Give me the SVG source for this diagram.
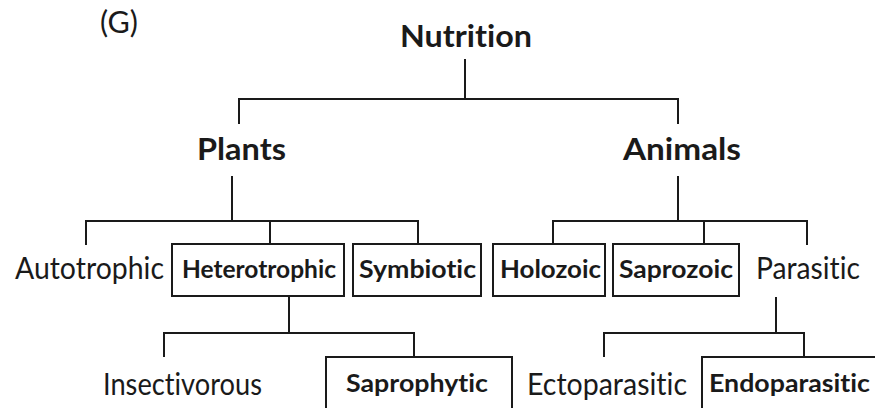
<svg xmlns="http://www.w3.org/2000/svg" width="875" height="408" viewBox="0 0 875 408">
<style>
  text { font-variant-ligatures: none; }
  .reg { font-family: Lato, "Open Sans", "Liberation Sans", sans-serif; font-size: 30px; fill: #1a1a1a; }
  .head { font-family: Lato, "Open Sans", "Liberation Sans", sans-serif; font-size: 31px; font-weight: bold; fill: #1a1a1a; }
  .lbl { font-family: Lato, "Open Sans", "Liberation Sans", sans-serif; font-size: 24px; font-weight: bold; fill: #1a1a1a; }
  .box { fill: #ffffff; stroke: #1a1a1a; stroke-width: 2; }
  .conn { fill: none; stroke: #1a1a1a; stroke-width: 2; }
</style>
<rect x="0" y="0" width="875" height="408" fill="#ffffff"/>
<text class="reg" x="100" y="33" font-size="26" textLength="38" lengthAdjust="spacingAndGlyphs">(G)</text>
<g id="connectors">
  <path class="conn" d="M465,59 V99 M239,124 V99 H678 V124"/>
  <path class="conn" d="M232,176 V221 M86,245 V221 H418 V244 M270,221 V244"/>
  <path class="conn" d="M678,176 V221 M553,244 V221 H807 V245 M704,221 V244"/>
  <path class="conn" d="M289,296 V333 M164,357 V333 H414 V357"/>
  <path class="conn" d="M776,297 V333 M604,357 V333 H804 V357"/>
</g>
<g id="nutrition"><text class="head" x="400" y="47" textLength="132" lengthAdjust="spacingAndGlyphs">Nutrition</text></g>
<g id="plants"><text class="head" x="197" y="160" textLength="89" lengthAdjust="spacingAndGlyphs">Plants</text></g>
<g id="animals"><text class="head" x="623" y="160" textLength="118" lengthAdjust="spacingAndGlyphs">Animals</text></g>
<g id="autotrophic"><text class="reg" x="15" y="279" textLength="149" lengthAdjust="spacingAndGlyphs">Autotrophic</text></g>
<g id="heterotrophic"><rect class="box" x="172" y="244" width="172" height="52"/><text class="lbl" x="182" y="278" textLength="154" lengthAdjust="spacingAndGlyphs">Heterotrophic</text></g>
<g id="symbiotic"><rect class="box" x="353" y="244" width="128" height="52"/><text class="lbl" x="359" y="278" textLength="117" lengthAdjust="spacingAndGlyphs">Symbiotic</text></g>
<g id="holozoic"><rect class="box" x="493" y="244" width="112" height="52"/><text class="lbl" x="500" y="278" textLength="101" lengthAdjust="spacingAndGlyphs">Holozoic</text></g>
<g id="saprozoic"><rect class="box" x="613" y="244" width="126" height="52"/><text class="lbl" x="619" y="278" textLength="114" lengthAdjust="spacingAndGlyphs">Saprozoic</text></g>
<g id="parasitic"><text class="reg" x="756" y="279" textLength="104" lengthAdjust="spacingAndGlyphs">Parasitic</text></g>
<g id="insectivorous"><text class="reg" x="103" y="395" textLength="159" lengthAdjust="spacingAndGlyphs">Insectivorous</text></g>
<g id="saprophytic"><rect class="box" x="326" y="357" width="186" height="70"/><text class="lbl" x="346" y="392" textLength="142" lengthAdjust="spacingAndGlyphs">Saprophytic</text></g>
<g id="ectoparasitic"><text class="reg" x="527" y="395" textLength="160" lengthAdjust="spacingAndGlyphs">Ectoparasitic</text></g>
<g id="endoparasitic"><rect class="box" x="702" y="357" width="190" height="70"/><text class="lbl" x="709" y="392" textLength="161" lengthAdjust="spacingAndGlyphs">Endoparasitic</text></g>
</svg>
